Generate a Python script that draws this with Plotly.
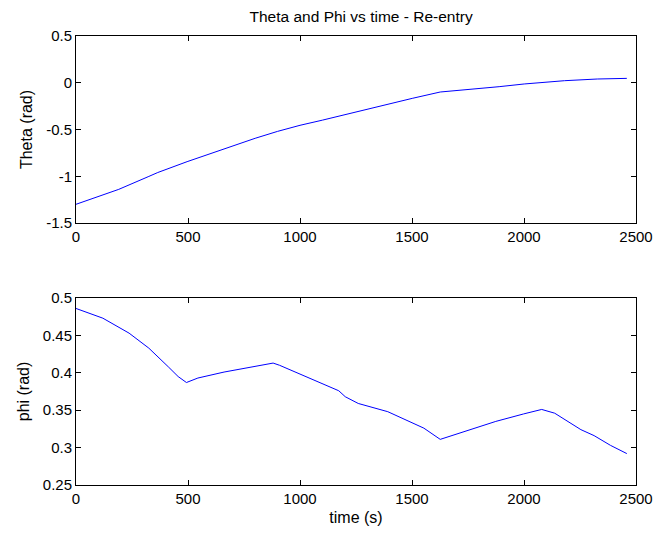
import plotly.graph_objects as go

# ---- data ----
time_theta = [0, 100, 191, 322, 365, 496, 655, 800, 900, 1000, 1100, 1200, 1300,
              1400, 1501, 1626, 1743, 1889, 2001, 2181, 2327, 2459]
theta = [-1.30, -1.22, -1.14, -1.005, -0.96, -0.844, -0.709, -0.594, -0.52, -0.455,
         -0.40, -0.34, -0.28, -0.225, -0.167, -0.099, -0.077, -0.042, -0.013, 0.022, 0.04, 0.047]

time_phi = [0, 120, 237, 325, 412, 456, 493, 544, 661, 778, 880, 909, 1004, 1100, 1173,
            1202, 1260, 1392, 1502, 1553, 1626, 1757, 1874, 1998, 2079, 2137, 2254, 2313,
            2386, 2459]
phi = [0.486, 0.473, 0.453, 0.433, 0.408, 0.395, 0.387, 0.393, 0.401, 0.407, 0.413, 0.410,
       0.398, 0.386, 0.376, 0.368, 0.359, 0.348, 0.333, 0.326, 0.311, 0.324, 0.335, 0.345,
       0.351, 0.346, 0.324, 0.316, 0.303, 0.292]

x_ticks = [0, 500, 1000, 1500, 2000, 2500]
x_ticktext = ["0", "500", "1000", "1500", "2000", "2500"]
theta_ticks = [-1.5, -1.0, -0.5, 0.0, 0.5]
theta_ticktext = ["-1.5", "-1", "-0.5", "0", "0.5"]
phi_ticks = [0.25, 0.30, 0.35, 0.40, 0.45, 0.50]
phi_ticktext = ["0.25", "0.3", "0.35", "0.4", "0.45", "0.5"]

title_text = "Theta and Phi vs time - Re-entry"

FONT = "Liberation Sans"
TICK_SIZE = 15
LABEL_SIZE = 16
line_style = dict(color="#0000ff", width=1)

fig = go.Figure()
fig.add_trace(go.Scatter(x=time_theta, y=theta, mode="lines", line=line_style,
                         xaxis="x", yaxis="y", showlegend=False))
fig.add_trace(go.Scatter(x=time_phi, y=phi, mode="lines", line=line_style,
                         xaxis="x2", yaxis="y2", showlegend=False))

axis_common = dict(showline=True, linecolor="black", linewidth=1, mirror="ticks",
                   ticks="inside", ticklen=5, tickcolor="black", showgrid=False,
                   zeroline=False, tickfont=dict(family=FONT, size=TICK_SIZE, color="black"))

fig.update_layout(
    width=665, height=535,
    margin=dict(l=76, r=19, t=36, b=50),
    paper_bgcolor="white", plot_bgcolor="white",
    font=dict(family=FONT, size=TICK_SIZE, color="black"),
    title=dict(text=title_text, x=0.543, xanchor="center", y=1 - 17 / 535, yanchor="middle",
               font=dict(family=FONT, size=15.5, color="black")),
    xaxis=dict(domain=[0, 1], anchor="y", range=[0, 2500], tickvals=x_ticks,
               ticktext=x_ticktext, **axis_common),
    yaxis=dict(domain=[0.5835, 1], anchor="x", range=[-1.5, 0.5], tickvals=theta_ticks,
               ticktext=theta_ticktext,
               title=dict(text="Theta (rad)", standoff=9, font=dict(family=FONT, size=LABEL_SIZE)),
               **axis_common),
    xaxis2=dict(domain=[0, 1], anchor="y2", range=[0, 2500], tickvals=x_ticks,
                ticktext=x_ticktext,
                title=dict(text="time (s)", standoff=5, font=dict(family=FONT, size=LABEL_SIZE)),
                **axis_common),
    yaxis2=dict(domain=[0, 0.4165], anchor="x2", range=[0.25, 0.5], tickvals=phi_ticks,
                ticktext=phi_ticktext,
                title=dict(text="phi (rad)", standoff=9, font=dict(family=FONT, size=LABEL_SIZE)),
                **axis_common),
)

fig.write_html("out.html")
